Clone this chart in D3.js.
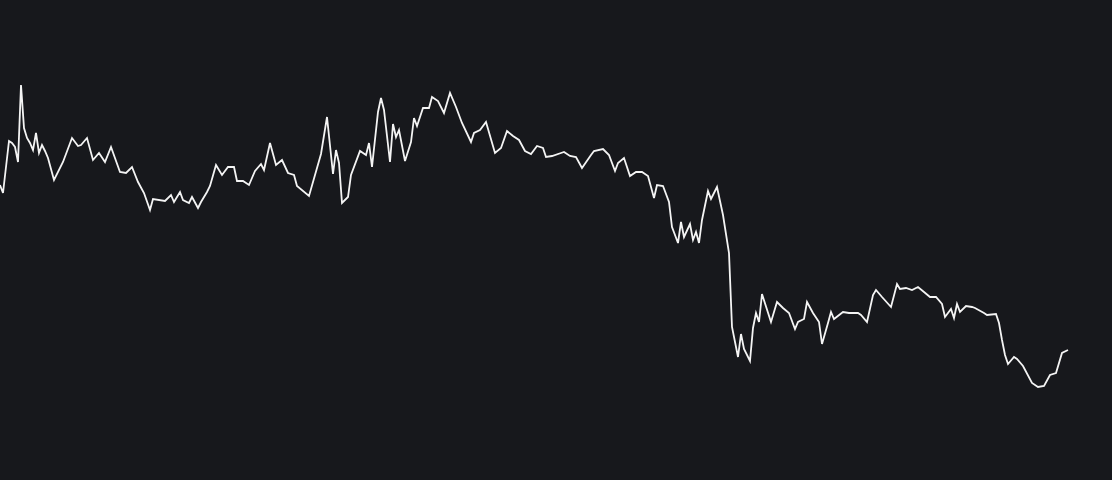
<!DOCTYPE html>
<html>
<head>
<meta charset="utf-8">
<script src="https://cdn.jsdelivr.net/npm/d3@7"></script>
<style>
  html, body { margin: 0; padding: 0; background: #17181c; overflow: hidden; }
  svg { display: block; }
</style>
</head>
<body>
<svg id="chart"></svg>
<script>
// trading day index for each sample
var days = [0, 1, 3, 4, 5, 6, 7, 8, 9, 10, 11, 12, 13, 14, 15, 16, 18, 21, 24, 26,
  27, 29, 31, 33, 35, 37, 40, 42, 44, 46, 48, 50, 51, 55, 57, 58, 60, 61, 63, 64,
  66, 67, 69, 70, 72, 74, 76, 78, 79, 81, 83, 85, 87, 88, 90, 92, 94, 96, 98, 99,
  103, 107, 109, 111, 112, 113, 114, 116, 117, 120, 122, 123, 124, 126, 127, 128, 130, 131, 132, 133,
  135, 137, 138, 139, 141, 143, 144, 146, 148, 150, 152, 154, 157, 158, 160, 162, 165, 167, 169, 171,
  173, 175, 177, 179, 181, 182, 184, 187, 188, 190, 192, 194, 197, 198, 201, 203, 205, 206, 208, 210,
  212, 214, 216, 218, 219, 221, 223, 224, 226, 227, 228, 230, 231, 232, 233, 234, 236, 237, 239, 241,
  243, 244, 246, 247, 248, 250, 251, 252, 253, 254, 257, 259, 261, 263, 265, 266, 268, 269, 271, 273,
  274, 276, 277, 278, 281, 283, 286, 287, 289, 291, 292, 294, 297, 299, 300, 302, 304, 306, 308, 310,
  312, 314, 315, 317, 318, 319, 320, 322, 324, 325, 328, 329, 332, 333, 334, 335, 336, 338, 339, 341,
  344, 346, 348, 350, 352, 354, 356];

// closing price per sample
var prices = [147.5, 143.5, 169.5, 168.5, 166.5, 159, 197.5, 176, 171, 168.5, 165, 173.5, 163.5, 167.5, 164.5, 161, 150, 159, 171, 167,
  167.5, 171, 160, 163.5, 159, 166.5, 154, 153.5, 156.5, 149, 143.5, 135, 140.5, 139.5, 142.5, 139, 144, 140, 138.5, 141.5,
  136, 139, 144, 147, 157.5, 152.5, 156.5, 156.5, 149.5, 149.5, 147.5, 154.5, 158, 155, 168.5, 157.5, 160, 153.5, 152.5, 147,
  142, 163, 181.5, 153, 165, 158.5, 138.5, 141.5, 152.5, 164.5, 162.5, 168.5, 156.5, 184, 191, 185, 159, 178, 171.5, 175,
  159.5, 169, 181, 177, 186, 186, 191.5, 189.5, 183.5, 193.5, 186.5, 178.5, 169, 173.5, 175, 179, 163.5, 166, 174.5, 172,
  170, 164.5, 163, 167, 166, 161.5, 162, 163.5, 164, 162, 161.5, 156, 162.5, 164.5, 165.5, 162.5, 154.5, 158.5, 161, 152,
  154, 154, 152, 141, 147.5, 147, 139, 126.5, 118.5, 129, 121.5, 128, 120, 124, 118.5, 130, 144.5, 140.5, 146.5, 132.5,
  113.5, 76.5, 61.5, 73, 65.5, 59.5, 76, 83.5, 79, 93, 79, 89, 86, 83.5, 75.5, 79, 80.5, 89, 83.5, 79,
  68, 78.5, 84, 80.5, 84, 83.5, 83.5, 82.5, 79, 92.5, 95, 91.5, 86.5, 98, 95.5, 96, 95, 96.5, 94, 91.5,
  91.5, 88, 81.5, 85.5, 81, 88, 84, 87, 86.5, 86, 83.5, 82.5, 83, 78.5, 70, 62.5, 58, 61.5, 60.5, 57,
  48.5, 46.5, 47, 52.5, 53.5, 63.5, 65];

var width = 1112, height = 480;

var svg = d3.select('#chart')
    .attr('width', width)
    .attr('height', height)

svg.append('rect')
    .attr('width', width)
    .attr('height', height)
    .attr('fill', '#17181c')

var x = d3.scaleLinear().domain([0, 356]).range([0, 1068]);
var y = d3.scaleLinear().domain([0, 240]).range([height, 0]);

var points = days.map(function(d, i) { return [d, prices[i]]; });

var line = d3.line()
    .x(function(d) { return x(d[0]); })
    .y(function(d) { return y(d[1]); });

svg.append('path')
    .datum(points)
    .attr('d', line)
    .attr('fill', 'none')
    .attr('stroke', '#f4f4f4')
    .attr('stroke-width', 1.8)
    .attr('stroke-linejoin', 'miter')
</script>
</body>
</html>
